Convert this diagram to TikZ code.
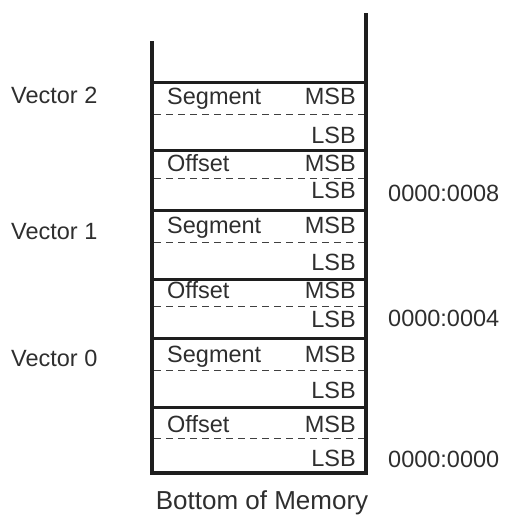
\documentclass[tikz,border=0pt]{standalone}
\usepackage{fontspec}
\setmainfont{Liberation Sans}
\usetikzlibrary{positioning}
\definecolor{memInk}{HTML}{1E1E1E}
\definecolor{memText}{HTML}{2E2E2E}

\begin{document}
\begin{tikzpicture}[x=1pt, y=-1pt,
      wall/.style={draw=memInk, line width=3.8pt, line join=miter},
      sep/.style={draw=memInk, line width=3pt},
      half/.style={draw=memInk!85, line width=0.8pt, dash pattern=on 7pt off 5pt},
      lbl/.style={inner sep=0pt, text=memText, font=\fontsize{23.5}{27}\selectfont},
      fld/.style={lbl, anchor=base west},
      byt/.style={lbl, anchor=base east}]
    \useasboundingbox (0,0) rectangle (507,515);
    % stack walls
    \coordinate (tl) at (152,41);
    \coordinate (tr) at (366,13);
    \coordinate (bl) at (152,473);
    \coordinate (br) at (366,473);
    \draw[wall] (tl) -- (bl) -- (br) -- (tr);
    \foreach \y in {82,150,210,279,338,407}
      \draw[sep] (152,\y) -- (366,\y);
    \foreach \y in {114,178,242,306,370,438}
      \draw[half] (154,\y) -- (364,\y);
    % vector 2
    \node[fld] (seg2) at (167,104) {Segment};
    \node[byt] (msbS2) at (356,104) {MSB};
    \node[byt] (lsbS2) at (356,143) {LSB};
    \node[fld] (off2) at (167,171) {Offset};
    \node[byt] (msbO2) at (356,171) {MSB};
    \node[byt] (lsbO2) at (356,198) {LSB};
    % vector 1
    \node[fld] (seg1) at (167,233) {Segment};
    \node[byt] (msbS1) at (356,233) {MSB};
    \node[byt] (lsbS1) at (356,270) {LSB};
    \node[fld] (off1) at (167,298.5) {Offset};
    \node[byt] (msbO1) at (356,298.5) {MSB};
    \node[byt] (lsbO1) at (356,327) {LSB};
    % vector 0
    \node[fld] (seg0) at (167,362) {Segment};
    \node[byt] (msbS0) at (356,362) {MSB};
    \node[byt] (lsbS0) at (356,398) {LSB};
    \node[fld] (off0) at (167,432) {Offset};
    \node[byt] (msbO0) at (356,432) {MSB};
    \node[byt] (lsbO0) at (356,466) {LSB};
    % side labels
    \node[fld] (vec2) at (11,103) {Vector 2};
    \node[fld] (vec1) at (11,239) {Vector 1};
    \node[fld] (vec0) at (11,366) {Vector 0};
    \node[fld] (adr8) at (388,201) {0000:0008};
    \node[fld] (adr4) at (388,326) {0000:0004};
    \node[fld] (adr0) at (388,467) {0000:0000};
    \node[lbl, anchor=base, font=\fontsize{26}{29}\selectfont] (bottom) at (262,509) {Bottom of Memory};
  \end{tikzpicture}
\end{document}
